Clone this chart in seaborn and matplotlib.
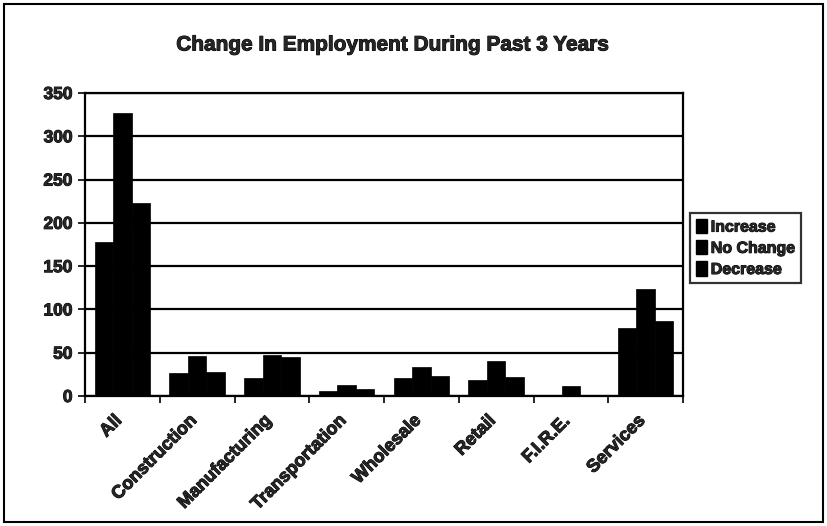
import matplotlib
matplotlib.use("Agg")
import matplotlib.pyplot as plt
import matplotlib.patheffects as pe
import matplotlib.transforms as mtransforms
from matplotlib.patches import Patch, Rectangle
from matplotlib.ticker import FixedLocator
import numpy as np
import pandas as pd
import seaborn as sns

categories = ["All", "Construction", "Manufacturing", "Transportation",
              "Wholesale", "Retail", "F.I.R.E.", "Services"]
series = ["Increase", "No Change", "Decrease"]
increase = [178, 26, 21, 6, 21, 18, 1, 78]
no_change = [327, 46, 47, 13, 34, 41, 12, 124]
decrease = [223, 28, 45, 8, 23, 22, 1, 87]
y_ticks = [0, 50, 100, 150, 200, 250, 300, 350]

df = pd.DataFrame({
    "Sector": categories * 3,
    "Response": [s for s in series for _ in categories],
    "Count": increase + no_change + decrease,
})

sns.set_theme(style="white")
plt.rcParams["font.family"] = ["Liberation Sans", "DejaVu Sans"]

heavy = [pe.withStroke(linewidth=0.7, foreground="black")]

fig = plt.figure(figsize=(8.27, 5.26), dpi=100)
ax = fig.add_axes([85 / 827, 1 - 396 / 526, 598 / 827, 303 / 526])

sns.barplot(data=df, x="Sector", y="Count", hue="Response",
            palette=["black", "black", "black"], width=0.74, gap=0,
            saturation=1, ax=ax, legend=False, edgecolor="black", linewidth=0.5)

ax.set_ylim(0, 350)
ax.set_xlim(-0.5, len(categories) - 0.5)
ax.set_yticks(y_ticks)
ax.set_yticklabels([str(v) for v in y_ticks], fontsize=12.5, fontweight="bold")
ax.yaxis.grid(True, color="black", linewidth=1.6)
ax.set_axisbelow(True)
ax.tick_params(axis="y", left=True, length=5, width=1.2, color="black", pad=4)

ax.set_xticks(range(len(categories)))
ax.set_xticklabels(categories, rotation=45, ha="right", va="center",
                   rotation_mode="anchor", fontsize=13, fontweight="bold")
ax.tick_params(axis="x", bottom=False, pad=10)
shift = mtransforms.ScaledTranslation(-3 / 100, 0, fig.dpi_scale_trans)
for lbl in ax.get_xticklabels():
    lbl.set_transform(lbl.get_transform() + shift)
ax.xaxis.set_minor_locator(FixedLocator(np.arange(-0.5, len(categories), 1.0)))
ax.tick_params(axis="x", which="minor", bottom=True, length=5, width=1.2, color="black")

for lbl in ax.get_xticklabels() + ax.get_yticklabels():
    lbl.set_path_effects(heavy)

ax.set_xlabel("")
ax.set_ylabel("")
for side in ["left", "bottom", "top", "right"]:
    ax.spines[side].set_visible(True)
    ax.spines[side].set_color("black")
    ax.spines[side].set_linewidth(1.6)

fig.text(393 / 827, 1 - 45 / 526, "Change In Employment During Past 3 Years",
         ha="center", va="center", fontsize=15, fontweight="bold",
         path_effects=heavy)

handles = [Patch(facecolor="black", edgecolor="black", label=s) for s in series]
leg = fig.legend(handles=handles, loc="center left",
                 bbox_to_anchor=(690 / 827, 1 - 248 / 526),
                 frameon=True, fancybox=False,
                 prop={"weight": "bold", "size": 11.5},
                 handlelength=0.7, handleheight=1.0, handletextpad=0.25,
                 labelspacing=0.35, borderpad=0.35, borderaxespad=0)
leg.get_frame().set_edgecolor("black")
leg.get_frame().set_linewidth(1.6)
for t in leg.get_texts():
    t.set_path_effects(heavy)

fig.patches.append(Rectangle((4 / 827, 4 / 526), 819 / 827, 518 / 526,
                             transform=fig.transFigure, fill=False,
                             edgecolor="black", linewidth=1.5))

fig.savefig("out.png", dpi=100, facecolor="white")
